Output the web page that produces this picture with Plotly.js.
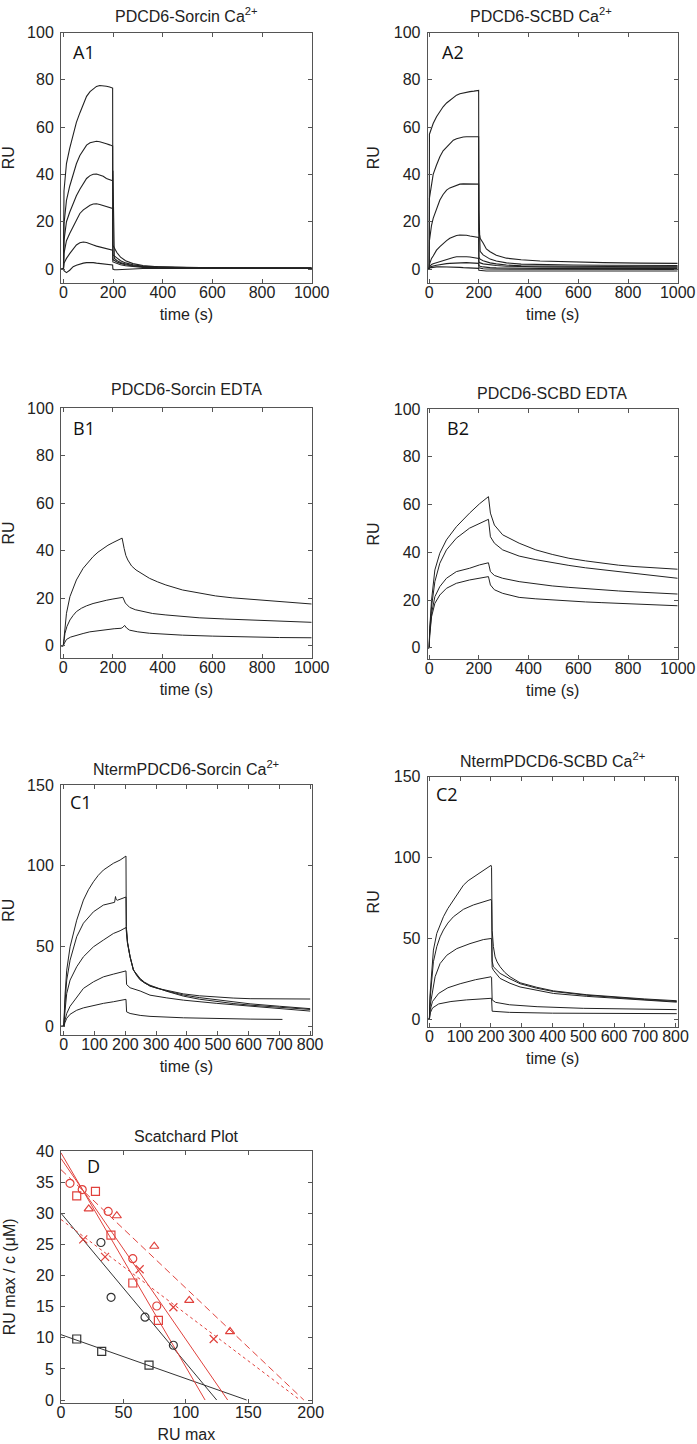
<!DOCTYPE html>
<html><head><meta charset="utf-8">
<script src="https://cdn.plot.ly/plotly-3.0.1.min.js"></script>
<style>html,body{margin:0;padding:0;background:#fff}#chart{width:697px;height:1444px}</style>
</head><body><div id="chart"></div><script>
// ---------------- DATA ----------------
// Panel A1: PDCD6-Sorcin Ca2+ (shared time grid, s)
const a1Time = [-8, 0, 2, 12, 25, 39, 52, 66, 80, 93, 107, 120, 133, 146, 160, 173, 186, 198, 199, 205, 215, 230, 250, 280, 320, 380, 450, 550, 700, 850, 1000];
const a1Ru1 = [0, 0, 33, 44.6, 51, 57, 62, 66, 70, 73, 75, 76.3, 77.2, 77.6, 77.6, 77.3, 77, 76.5, 10, 8.8, 7, 5, 3.5, 2.3, 1.5, 1, 0.8, 0.6, 0.5, 0.6, 0.5];
const a1Ru2 = [0, 0, 19, 29, 35, 40, 44.5, 48, 50.5, 52.4, 53.4, 53.8, 54, 53.8, 53.5, 53, 52.5, 52, 6, 5.5, 4.5, 3.5, 2.6, 1.8, 1.2, 0.9, 0.7, 0.5, 0.4, 0.4, 0.3];
const a1Ru3 = [0, 0, 12, 20, 24, 27.7, 31, 33.7, 36.2, 38.3, 39.5, 40.1, 40.2, 39.7, 39.2, 38.3, 37.8, 37.3, 41.5, 4.5, 3.6, 2.8, 2.1, 1.5, 1.1, 0.8, 0.6, 0.5, 0.4, 0.4, 0.4];
const a1Ru4 = [0, 0, 6.6, 12, 15, 18, 21, 23.5, 25, 26, 27, 27.5, 27.6, 27.3, 26.8, 26.3, 26, 25.6, 4, 3.6, 3, 2.4, 1.8, 1.3, 0.9, 0.6, 0.5, 0.4, 0.3, 0.4, 0.3];
const a1Ru5 = [0, 0, 2.4, 4.5, 6.5, 8.7, 10.2, 11.1, 11.4, 11.2, 10.8, 10.2, 9.7, 9.3, 8.9, 8.6, 8.3, 8.0, 3, 2.7, 2.2, 1.8, 1.4, 1, 0.7, 0.5, 0.4, 0.3, 0.3, 0.3, 0.3];
const a1Ru6 = [0, 0, -0.7, -1.5, -0.5, 1, 1.6, 2.1, 2.5, 2.7, 2.8, 2.7, 2.5, 2.4, 2.3, 2.1, 1.9, 1.7, 0, -0.3, -0.3, -0.2, 0, 0.1, 0.2, 0.2, 0.2, 0.2, 0.2, 0.2, 0.2];

// Panel A2: PDCD6-SCBD Ca2+
const a2Time = [-6, 0, 1, 5.4, 9.4, 16, 29.5, 43, 56, 70, 83, 97, 110, 123.5, 137, 150, 164, 180, 197, 199, 200, 205, 217, 230, 245, 270, 311, 370, 446, 580, 700, 850, 1000];
const a2Ru1 = [0, 0, 57, 58.5, 59.4, 61.5, 64.4, 66.8, 68.6, 70.2, 71.4, 72.6, 73.5, 74.1, 74.5, 74.8, 75, 75.2, 75.5, 75.5, 16, 13, 11, 8.5, 7.3, 5.8, 4.6, 3.9, 3.4, 2.9, 2.7, 2.5, 2.4];
const a2Ru2 = [0, 0, 30, 33, 35.5, 40, 44, 47.5, 50, 51.7, 53.2, 54.5, 55.1, 55.6, 55.8, 55.9, 55.9, 55.9, 55.9, 55.9, 25, 7.5, 6, 5, 4.2, 3.4, 2.6, 2.1, 1.9, 1.7, 1.6, 1.5, 1.5];
const a2Ru3 = [0, 0, 12, 16.5, 18.5, 21.4, 25.5, 29.2, 31.5, 33.4, 34.3, 34.8, 35.3, 35.9, 36, 36, 36, 36, 35.9, 35.9, 5, 4.2, 3.5, 3, 2.6, 2.2, 1.7, 1.4, 1.3, 1.1, 1.1, 1, 1];
const a2Ru4 = [0, 0, 2, 3.8, 4.5, 5.5, 8, 9.5, 10.8, 12, 13, 13.7, 14.2, 14.4, 14.4, 14.3, 14, 13.8, 13.4, 13.4, 3, 2.6, 2.2, 2, 1.8, 1.5, 1.2, 1, 0.9, 0.8, 0.8, 0.8, 0.8];
const a2Ru5 = [0, 0, 1, 1.7, 1.9, 2.2, 2.7, 3.1, 3.6, 4, 4.5, 4.9, 5.2, 5.3, 5.2, 5.2, 5.1, 4.8, 4.5, 4.5, 1.5, 1.2, 0.9, 0.7, 0.6, 0.5, 0.4, 0.4, 0.3, 0.3, 0.3, 0.3, 0.3];
const a2Ru6 = [0, 0, 0.8, 1, 1.1, 1.3, 1.6, 1.9, 2.1, 2.3, 2.4, 2.5, 2.6, 2.7, 2.7, 2.7, 2.6, 2.5, 2.4, 2.4, 0.5, 0.3, 0.1, 0, 0, -0.1, -0.1, -0.2, -0.2, -0.2, -0.2, -0.2, -0.2];
const a2Ru7 = [0, 0, 0.5, 0.6, 0.7, 0.8, 0.9, 1, 1, 1, 1, 0.9, 0.8, 0.7, 0.6, 0.5, 0.4, 0.4, 0.3, 0.3, -0.5, -0.6, -0.7, -0.8, -0.8, -0.8, -0.8, -0.8, -0.8, -0.8, -0.8, -0.8, -0.8];

// Panel B1: PDCD6-Sorcin EDTA
const b1Time1 = [-8, 0, 3, 7, 13, 27, 40, 53, 80, 100, 120, 140, 160, 180, 200, 220, 237, 245, 252, 260, 275, 293, 320, 347, 380, 413, 480, 550, 613, 680, 747, 820, 880, 940, 1000];
const b1Ru1 = [0, 0, 3, 6.6, 13.7, 20.7, 24.5, 27.7, 32.6, 35.2, 37.5, 39.4, 41, 42.3, 43.4, 44.4, 45.3, 41, 38, 36.1, 33.6, 31.9, 30, 28.4, 26.9, 25.6, 23.5, 22.2, 21, 20.2, 19.6, 19.1, 18.6, 18.1, 17.6];
const b1Time2 = [-8, 0, 3, 7, 15, 27, 40, 53, 73, 93, 120, 147, 175, 200, 220, 233, 240, 250, 267, 290, 320, 360, 413, 480, 547, 650, 747, 870, 1000];
const b1Ru2 = [0, 0, 2, 5.3, 8.2, 10.9, 12.8, 14.4, 15.8, 16.8, 17.8, 18.6, 19.2, 19.7, 20.1, 20.3, 20.4, 18, 16.2, 15.2, 14.4, 13.6, 13, 12.3, 11.8, 11.3, 10.9, 10.4, 9.9];
const b1Time3 = [-8, 0, 5, 13, 30, 53, 80, 107, 140, 173, 205, 233, 240, 247, 255, 267, 300, 347, 413, 480, 600, 747, 870, 1000];
const b1Ru3 = [0, 0, 1.2, 2.7, 3.7, 4.5, 5.2, 5.9, 6.4, 6.9, 7.2, 7.4, 7.8, 8.6, 7.5, 6.6, 5.9, 5.3, 4.9, 4.5, 4.1, 3.7, 3.5, 3.4];

// Panel B2: PDCD6-SCBD EDTA
const b2Time = [-6, 0, 2, 9.5, 22.8, 42.7, 69.4, 109.3, 162.5, 202.5, 238.4, 246.4, 262.4, 295.7, 362, 429, 495, 562, 628.6, 695, 761.6, 828, 894.6, 1000];
const b2Ru1 = [0, 0, 8, 20, 32.6, 39.6, 45.2, 50.7, 56.4, 60.3, 63.3, 56.4, 51.4, 47.3, 43.8, 41, 39.1, 37.5, 36.4, 35.4, 34.6, 34, 33.5, 32.9];
const b2Ru2 = [0, 0, 7, 17.2, 27.7, 35.4, 41, 45.9, 50.1, 52.2, 53.8, 46.5, 43.8, 41, 38.4, 36.9, 35.6, 34.5, 33.5, 32.7, 31.9, 31.2, 30.5, 29.1];
const b2Ru3 = [0, 0, 6, 14.4, 21.4, 25.6, 29.1, 31.9, 33.3, 34.7, 35.6, 31.9, 30.3, 29.1, 27.7, 26.7, 25.9, 25.3, 24.7, 24.2, 23.8, 23.4, 23, 22.5];
const b2Ru4 = [0, 0, 5, 13, 18.6, 22.1, 24.9, 27, 28.4, 29.1, 29.8, 26.3, 24.3, 22.8, 21.1, 20.5, 20, 19.6, 19.2, 18.9, 18.6, 18.3, 18, 17.6];

// Panel C1: NtermPDCD6-Sorcin Ca2+
const c1Time1 = [-8, 0, 4.2, 9.6, 20.5, 42, 63.8, 80, 96.3, 112, 128.6, 145, 161, 182.8, 200, 202, 203, 207, 215.3, 226, 237, 248, 262, 280, 305, 334.5, 388.5, 440, 497, 550, 605, 700, 800];
const c1Ru1 = [0, 0, 20, 35, 49.5, 66.1, 78.6, 85, 90, 94, 97.3, 99.5, 101.5, 103.5, 105.5, 106, 62, 52, 43.5, 35.2, 31.5, 29, 27, 25.2, 23.6, 22.3, 20.2, 19, 18.2, 17.6, 17.2, 17.1, 17];
const c1Time2 = [-8, 0, 4.2, 9.6, 20.5, 42, 63.8, 96.3, 128.6, 150, 165, 168, 170, 174, 182.8, 200, 202, 203, 207, 215.3, 226, 248, 280, 334.5, 388.5, 440, 497, 550, 605, 700, 800];
const c1Ru2 = [0, 0, 15, 28.8, 41.2, 55.8, 64.2, 71.3, 75.5, 76.6, 77.2, 80.8, 79, 78.5, 79, 80.3, 80.5, 62, 52.5, 43.3, 35.3, 29, 25, 22, 19.5, 17.9, 16.5, 15.2, 14, 12.5, 11];
const c1Time3 = [-8, 0, 4.2, 9.6, 20.5, 42, 63.8, 96.3, 128.6, 161, 182.8, 200, 202, 206.6, 215.3, 226, 237, 248, 262, 280, 334.5, 388.5, 440, 497, 550, 605, 700, 800];
const c1Ru3 = [0, 0, 10, 20.5, 28.8, 37.1, 43.3, 49.5, 53.7, 57.8, 59.5, 61, 61.5, 52, 43, 35, 32, 29.8, 27.5, 25.6, 21.8, 18.8, 16.9, 15.3, 14.2, 13.2, 11.8, 10.5];
const c1Time4 = [-8, 0, 4.2, 9.6, 20.5, 42, 63.8, 96.3, 128.6, 161, 200, 202, 204, 215.3, 248, 280, 334.5, 388.5, 497, 605, 700, 800];
const c1Ru4 = [0, 0, 4, 8, 12.5, 18.4, 23.6, 27.7, 30.8, 32.5, 34, 34.5, 26, 24, 22, 19.4, 17.7, 16.3, 14.3, 12.6, 11, 9.5];
const c1Time5 = [-8, 0, 4.2, 9.6, 20.5, 42, 63.8, 96.3, 128.6, 161, 200, 202, 204, 215.3, 248, 280, 388.5, 497, 605, 710];
const c1Ru5 = [0, 0, 2.5, 5, 7.5, 10, 11.5, 13, 14.3, 15.3, 16.5, 16.8, 9, 8, 6.8, 6.2, 5.3, 4.8, 4.5, 4.3];

// Panel C2: NtermPDCD6-SCBD Ca2+
const c2Time1 = [-6, 0, 2, 7.7, 13.1, 24, 34.8, 45.6, 60, 78, 95, 110.5, 126, 143, 160, 175.4, 197.2, 200.5, 202, 204, 208, 213.5, 220, 229.7, 245, 262, 294.7, 348.9, 403, 511.4, 619.6, 700, 803.8];
const c2Ru1 = [0, 0, 15, 30.4, 42.8, 53.1, 58.5, 63.4, 68.5, 73.6, 78.5, 82.9, 85.7, 88, 90.2, 92.1, 94.8, 95.2, 94, 55, 45, 38.6, 35.5, 32.5, 29, 26.3, 22.6, 19.8, 17.6, 15.2, 13.6, 12.6, 11.5];
const c2Time2 = [-6, 0, 2, 7.7, 13.1, 24, 34.8, 45.6, 60, 78, 95, 110.5, 143, 175.4, 200.5, 202, 204, 208, 229.7, 262, 294.7, 348.9, 403, 511.4, 619.6, 700, 803.8];
const c2Ru2 = [0, 0, 12, 26.3, 35.6, 44.9, 51, 55.2, 59.5, 63.4, 66, 68, 70.7, 72.7, 74.1, 73, 36, 32.5, 28.4, 25, 22, 19.2, 17.2, 14.9, 13.2, 12.2, 11];
const c2Time3 = [-6, 0, 2, 7.7, 18.5, 34.8, 56.4, 88.9, 132, 175.4, 200.5, 202, 204, 208, 229.7, 262, 294.7, 348.9, 403, 511.4, 619.6, 700, 803.8];
const c2Ru3 = [0, 0, 8, 14.2, 26.3, 34.5, 39.6, 43.7, 46.8, 49.3, 50.4, 50, 32, 30.4, 25.3, 22.3, 20, 17.8, 16, 14.2, 12.8, 11.8, 10.6];
const c2Time4 = [-6, 0, 3, 10, 30, 60, 100, 150, 200.5, 202, 204, 215, 260, 350, 500, 650, 803.8];
const c2Ru4 = [0, 0, 6, 11, 16, 19.5, 22, 24.5, 26.3, 26, 12, 10.5, 9, 7.8, 6.8, 6.3, 6];
const c2Time5 = [-6, 0, 3, 10, 30, 70, 120, 200.5, 202, 204, 260, 400, 600, 803.8];
const c2Ru5 = [0, 0, 4, 7, 9.5, 11, 12, 13.2, 13, 5, 4.3, 3.8, 3.6, 3.5];

// Panel D: Scatchard plot (RU max, RU max / c)
const dBlackCircleRu = [32, 40.1, 67.3, 90];
const dBlackCircleRatio = [25.3, 16.5, 13.3, 8.8];
const dBlackSquareRu = [12.6, 32.6, 70.5];
const dBlackSquareRatio = [9.8, 7.8, 5.6];
const dRedCircleRu = [7.2, 17, 37.8, 57.5, 76.7];
const dRedCircleRatio = [34.8, 33.8, 30.3, 22.7, 15.1];
const dRedSquareRu = [12.6, 27.6, 40, 57.5, 78];
const dRedSquareRatio = [32.8, 33.5, 26.5, 18.8, 12.8];
const dRedTriangleRu = [22.2, 44.7, 74.7, 102.7, 135.4];
const dRedTriangleRatio = [30.7, 29.6, 24.7, 16, 11];
const dRedCrossRu = [17.8, 35.3, 63, 90, 122.3];
const dRedCrossRatio = [25.8, 23, 21, 14.9, 9.8];
// linear fits: y-intercept (RU max / c) and x-intercept (RU max)
const fitYIntercept = [30, 10.5, 39.7, 38.8, 37, 29];
const fitXIntercept = [124.7, 148.7, 115.4, 133.5, 194.5, 191.5];

// Tick labels
const timeTicks1000 = [0, 200, 400, 600, 800, 1000];
const timeTicks800 = [0, 100, 200, 300, 400, 500, 600, 700, 800];
const ruTicks100 = [0, 20, 40, 60, 80, 100];
const ruTicks150 = [0, 50, 100, 150];
const scatXTicks = [0, 50, 100, 150, 200];
const scatYTicks = [0, 5, 10, 15, 20, 25, 30, 35, 40];

// ---------------- STYLE / LAYOUT ----------------
const FONT = 'Liberation Sans, Arial, Helvetica, sans-serif';
const LETTER_FONT = 'Open Sans, Noto Sans, sans-serif';
const W = 697, H = 1444;
const INK = '#222';
const RED = '#e0413c';
function xd(l, r) { return [l / W, r / W]; }
function yd(t, b) { return [1 - b / H, 1 - t / H]; }
function px(x) { return x / W; }
function py(y) { return 1 - y / H; }

function ax(extra) {
  return Object.assign({
    showline: true, linecolor: '#555', linewidth: 1, mirror: 'ticks',
    ticks: 'inside', ticklen: 4, tickwidth: 1, tickcolor: '#555',
    showgrid: false, zeroline: false, fixedrange: true,
    tickfont: {family: FONT, size: 16, color: INK}
  }, extra);
}
function xa(extra) { return ax(Object.assign({ticklabelstandoff: -5}, extra)); }
function ya(extra) { return ax(Object.assign({ticklabelstandoff: 3}, extra)); }
function xTitle(t) { return {text: t, font: {family: FONT, size: 16, color: INK}, standoff: 8}; }
function yTitle(t, s) { return {text: t, font: {family: FONT, size: 16, color: INK}, standoff: s}; }

const traces = [];
function curve(x, y, xaxis, yaxis, w) {
  traces.push({x: x, y: y, xaxis: xaxis, yaxis: yaxis, type: 'scatter', mode: 'lines',
    line: {color: INK, width: w || 1}, showlegend: false, hoverinfo: 'skip'});
}
// A1
[a1Ru1, a1Ru2, a1Ru3, a1Ru4, a1Ru5, a1Ru6].forEach(v => curve(a1Time, v, 'x', 'y', 1.1));
// A2
[a2Ru1, a2Ru2, a2Ru3, a2Ru4, a2Ru5, a2Ru6, a2Ru7].forEach(v => curve(a2Time, v, 'x2', 'y2', 1.1));
// B1
curve(b1Time1, b1Ru1, 'x3', 'y3'); curve(b1Time2, b1Ru2, 'x3', 'y3'); curve(b1Time3, b1Ru3, 'x3', 'y3');
// B2
[b2Ru1, b2Ru2, b2Ru3, b2Ru4].forEach(v => curve(b2Time, v, 'x4', 'y4'));
// C1
curve(c1Time1, c1Ru1, 'x5', 'y5'); curve(c1Time2, c1Ru2, 'x5', 'y5'); curve(c1Time3, c1Ru3, 'x5', 'y5');
curve(c1Time4, c1Ru4, 'x5', 'y5'); curve(c1Time5, c1Ru5, 'x5', 'y5');
// C2
curve(c2Time1, c2Ru1, 'x6', 'y6'); curve(c2Time2, c2Ru2, 'x6', 'y6'); curve(c2Time3, c2Ru3, 'x6', 'y6');
curve(c2Time4, c2Ru4, 'x6', 'y6'); curve(c2Time5, c2Ru5, 'x6', 'y6');

// D: fit lines
const fitColors = ['#333', '#333', RED, RED, RED, RED];
const fitDash = ['solid', 'solid', 'solid', 'solid', '7px,4px', '3px,3px'];
fitYIntercept.forEach((b, i) => {
  traces.push({x: [0, fitXIntercept[i]], y: [b, 0], xaxis: 'x7', yaxis: 'y7', type: 'scatter', mode: 'lines',
    line: {color: fitColors[i], width: 1, dash: fitDash[i]}, showlegend: false, hoverinfo: 'skip'});
});
function pts(x, y, sym, col) {
  traces.push({x: x, y: y, xaxis: 'x7', yaxis: 'y7', type: 'scatter', mode: 'markers',
    marker: {symbol: sym, size: 8, color: col, line: {color: col, width: 1.2}},
    showlegend: false, hoverinfo: 'skip'});
}
pts(dBlackCircleRu, dBlackCircleRatio, 'circle-open', '#333');
pts(dBlackSquareRu, dBlackSquareRatio, 'square-open', '#333');
pts(dRedTriangleRu, dRedTriangleRatio, 'triangle-up-open', RED);
pts(dRedCrossRu, dRedCrossRatio, 'x-thin-open', RED);
pts(dRedCircleRu, dRedCircleRatio, 'circle-open', RED);
pts(dRedSquareRu, dRedSquareRatio, 'square-open', RED);

const layout = {
  width: W, height: H, margin: {l: 0, r: 0, t: 0, b: 0},
  paper_bgcolor: '#fff', plot_bgcolor: '#fff', showlegend: false,
  font: {family: FONT, color: INK},
  xaxis:  xa({domain: xd(61, 311.7),   range: [-10, 1000], tickvals: timeTicks1000, anchor: 'y',  title: xTitle('time (s)')}),
  yaxis:  ya({domain: yd(32.5, 283),   range: [-5.9, 100], tickvals: ruTicks100, anchor: 'x',  title: yTitle('RU', 10)}),
  xaxis2: xa({domain: xd(427.7, 677.7), range: [-6, 1000], tickvals: timeTicks1000, anchor: 'y2', title: xTitle('time (s)')}),
  yaxis2: ya({domain: yd(32.5, 283),   range: [-5.9, 100], tickvals: ruTicks100, anchor: 'x2', title: yTitle('RU', 10)}),
  xaxis3: xa({domain: xd(61, 311.7),   range: [-9, 1000], tickvals: timeTicks1000, anchor: 'y3', title: xTitle('time (s)')}),
  yaxis3: ya({domain: yd(408, 658),    range: [-5.1, 100], tickvals: ruTicks100, anchor: 'x3', title: yTitle('RU', 10)}),
  xaxis4: xa({domain: xd(427.7, 677.7), range: [-6, 1000], tickvals: timeTicks1000, anchor: 'y4', title: xTitle('time (s)')}),
  yaxis4: ya({domain: yd(409, 659),    range: [-4.7, 100], tickvals: ruTicks100, anchor: 'x4', title: yTitle('RU', 10)}),
  xaxis5: xa({domain: xd(61, 311.7),   range: [-9, 805], tickvals: timeTicks800, anchor: 'y5', title: xTitle('time (s)')}),
  yaxis5: ya({domain: yd(785.4, 1035), range: [-5.4, 150], tickvals: ruTicks150, anchor: 'x5', title: yTitle('RU', 10)}),
  xaxis6: xa({domain: xd(427.7, 677.7), range: [-5.5, 807], tickvals: timeTicks800, anchor: 'y6', title: xTitle('time (s)')}),
  yaxis6: ya({domain: yd(776.7, 1027), range: [-4.75, 150], tickvals: ruTicks150, anchor: 'x6', title: yTitle('RU', 10)}),
  xaxis7: xa({domain: xd(61, 311.7),   range: [0, 200.8], tickvals: scatXTicks, anchor: 'y7', title: xTitle('RU max')}),
  yaxis7: ya({domain: yd(1151, 1402.7), range: [-0.43, 40], tickvals: scatYTicks, anchor: 'x7', title: yTitle('RU max / c (μM)', 16)}),
  annotations: []
};

const titles = [
  ['PDCD6-Sorcin Ca<sup>2+</sup>', 186, 15],
  ['PDCD6-SCBD Ca<sup>2+</sup>', 541, 15],
  ['PDCD6-Sorcin EDTA', 186, 390],
  ['PDCD6-SCBD EDTA', 552, 394],
  ['NtermPDCD6-Sorcin Ca<sup>2+</sup>', 186, 768],
  ['NtermPDCD6-SCBD Ca<sup>2+</sup>', 552, 760],
  ['Scatchard Plot', 186.5, 1136]
];
titles.forEach(t => layout.annotations.push({text: t[0], x: px(t[1]), y: py(t[2]), xref: 'paper', yref: 'paper',
  xanchor: 'center', yanchor: 'middle', showarrow: false, font: {family: FONT, size: 16, color: INK}}));

const letters = [['A1', 71, 52], ['A2', 440, 52], ['B1', 71, 428], ['B2', 445, 428], ['C1', 68, 802], ['C2', 434, 794], ['D', 85, 1166]];
letters.forEach(t => layout.annotations.push({text: t[0], x: px(t[1]), y: py(t[2]), xref: 'paper', yref: 'paper',
  xanchor: 'left', yanchor: 'middle', showarrow: false, font: {family: LETTER_FONT, size: 18, color: '#111'}}));

Plotly.newPlot('chart', traces, layout, {staticPlot: true, displayModeBar: false});
</script></body></html>
